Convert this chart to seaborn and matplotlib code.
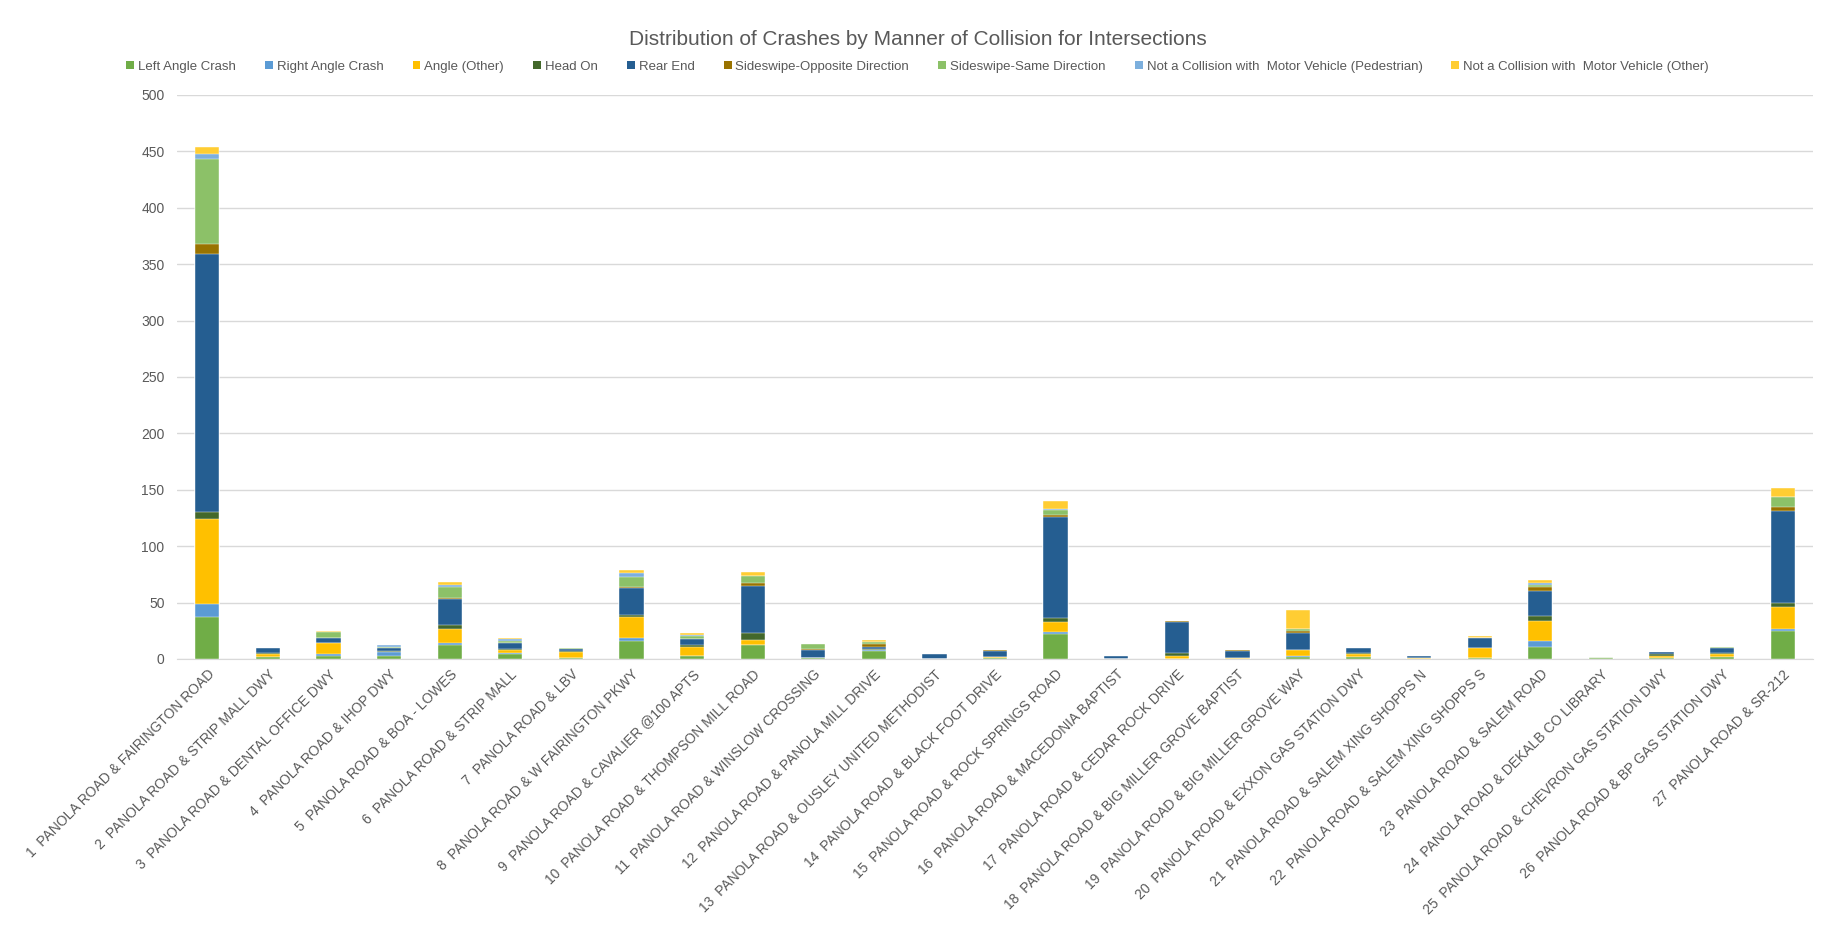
import numpy as np
import pandas as pd
import matplotlib
matplotlib.use("Agg")
import matplotlib.pyplot as plt
from matplotlib.patches import Patch
import seaborn as sns

# intersections (x axis)
intersections = [
    "1  PANOLA ROAD & FAIRINGTON ROAD",
    "2  PANOLA ROAD & STRIP MALL DWY",
    "3  PANOLA ROAD & DENTAL OFFICE DWY",
    "4  PANOLA ROAD & IHOP DWY",
    "5  PANOLA ROAD & BOA - LOWES",
    "6  PANOLA ROAD & STRIP MALL",
    "7  PANOLA ROAD & LBV",
    "8  PANOLA ROAD & W FAIRINGTON PKWY",
    "9  PANOLA ROAD & CAVALIER @100 APTS",
    "10  PANOLA ROAD & THOMPSON MILL ROAD",
    "11  PANOLA ROAD & WINSLOW CROSSING",
    "12  PANOLA ROAD & PANOLA MILL DRIVE",
    "13  PANOLA ROAD & OUSLEY UNITED METHODIST",
    "14  PANOLA ROAD & BLACK FOOT DRIVE",
    "15  PANOLA ROAD & ROCK SPRINGS ROAD",
    "16  PANOLA ROAD & MACEDONIA BAPTIST",
    "17  PANOLA ROAD & CEDAR ROCK DRIVE",
    "18  PANOLA ROAD & BIG MILLER GROVE BAPTIST",
    "19  PANOLA ROAD & BIG MILLER GROVE WAY",
    "20  PANOLA ROAD & EXXON GAS STATION DWY",
    "21  PANOLA ROAD & SALEM XING SHOPPS N",
    "22  PANOLA ROAD & SALEM XING SHOPPS S",
    "23  PANOLA ROAD & SALEM ROAD",
    "24  PANOLA ROAD & DEKALB CO LIBRARY",
    "25  PANOLA ROAD & CHEVRON GAS STATION DWY",
    "26  PANOLA ROAD & BP GAS STATION DWY",
    "27  PANOLA ROAD & SR-212",
]

# crash counts per manner of collision
left_angle = [37, 2, 3, 3, 12, 4, 1, 16, 3, 12, 1, 7, 0, 1, 22, 0, 0, 0, 2, 2, 0, 1, 11, 1, 1, 2, 25]
right_angle = [12, 0, 1, 3, 2, 1, 0, 3, 0, 0, 0, 1, 0, 0, 2, 0, 0, 0, 1, 0, 0, 0, 5, 0, 0, 0, 2]
angle_other = [75, 2, 10, 0, 13, 3, 5, 18, 8, 5, 0, 0, 0, 1, 9, 0, 3, 1, 5, 2, 1, 9, 18, 0, 2, 2, 19]
head_on = [6, 1, 0, 1, 3, 1, 1, 2, 1, 6, 0, 1, 0, 0, 3, 0, 2, 0, 0, 1, 0, 0, 4, 0, 1, 1, 4]
rear_end = [229, 5, 5, 3, 23, 5, 2, 24, 6, 42, 7, 2, 4, 5, 90, 3, 28, 6, 15, 5, 2, 9, 22, 0, 2, 5, 81]
sideswipe_opp = [9, 0, 0, 0, 1, 0, 0, 1, 0, 2, 1, 2, 0, 1, 2, 0, 1, 1, 2, 0, 0, 0, 4, 0, 0, 0, 4]
sideswipe_same = [75, 0, 5, 1, 10, 2, 1, 9, 2, 7, 4, 2, 0, 0, 4, 0, 0, 0, 2, 0, 0, 0, 2, 1, 0, 1, 9]
not_coll_ped = [5, 0, 0, 1, 2, 2, 0, 3, 1, 0, 0, 0, 0, 0, 1, 0, 0, 0, 0, 0, 0, 0, 1, 0, 0, 0, 0]
not_coll_other = [6, 0, 1, 0, 2, 1, 0, 3, 2, 3, 0, 2, 0, 0, 7, 0, 0, 0, 16, 0, 0, 1, 3, 0, 0, 0, 8]

series_names = [
    "Left Angle Crash", "Right Angle Crash", "Angle (Other)", "Head On", "Rear End",
    "Sideswipe-Opposite Direction", "Sideswipe-Same Direction",
    "Not a Collision with  Motor Vehicle (Pedestrian)",
    "Not a Collision with  Motor Vehicle (Other)",
]
series_values = [left_angle, right_angle, angle_other, head_on, rear_end,
                 sideswipe_opp, sideswipe_same, not_coll_ped, not_coll_other]
colors = ["#70AD47", "#5B9BD5", "#FFC000", "#43682B", "#255E91",
          "#997300", "#8CC168", "#7CAFDD", "#FFCD33"]

df = pd.DataFrame(dict(zip(series_names, series_values)), index=intersections)
cum = df.cumsum(axis=1)

sns.set_style("white")
plt.rcParams["font.family"] = ["Liberation Sans", "DejaVu Sans"]
grey = "#595959"

fig = plt.figure(figsize=(18.35, 9.3), dpi=100)
ax = fig.add_axes([0.0965, 0.2914, 0.8915, 0.6066])

# stacked bars: draw cumulative totals from the top layer down
for name, col in reversed(list(zip(series_names, colors))):
    sns.barplot(x=intersections, y=cum[name].values, color=col, saturation=1,
                width=0.4, edgecolor="white", linewidth=0.3, ax=ax, zorder=3)

ax.set_ylim(0, 500)
ax.set_xlim(-0.5, len(intersections) - 0.5)
ax.set_yticks(np.arange(0, 501, 50))
ax.yaxis.grid(True, color="#D9D9D9", linewidth=1, zorder=0)
ax.set_axisbelow(True)
for s in ["top", "right", "left"]:
    ax.spines[s].set_visible(False)
ax.spines["bottom"].set_color("#D9D9D9")
ax.tick_params(axis="both", length=0, colors=grey, labelsize=10)
ax.tick_params(axis="y", pad=9)
ax.tick_params(axis="x", pad=6)
ax.set_xticks(range(len(intersections)))
ax.set_xticklabels(intersections, rotation=45, ha="right", rotation_mode="anchor",
                   fontsize=10, color=grey)
ax.set_xlabel("")
ax.set_ylabel("")

fig.suptitle("Distribution of Crashes by Manner of Collision for Intersections",
             y=0.968, fontsize=15, color=grey)

handles = [Patch(facecolor=c, edgecolor="none") for c in colors]
fig.legend(handles, series_names, loc="center", bbox_to_anchor=(0.5, 0.928), ncol=9,
           frameon=False, handlelength=0.6, handleheight=0.6, handletextpad=0.3,
           columnspacing=2.2, prop={"size": 9.5}, labelcolor=grey)

fig.savefig("out.png", dpi=100, facecolor="white")
